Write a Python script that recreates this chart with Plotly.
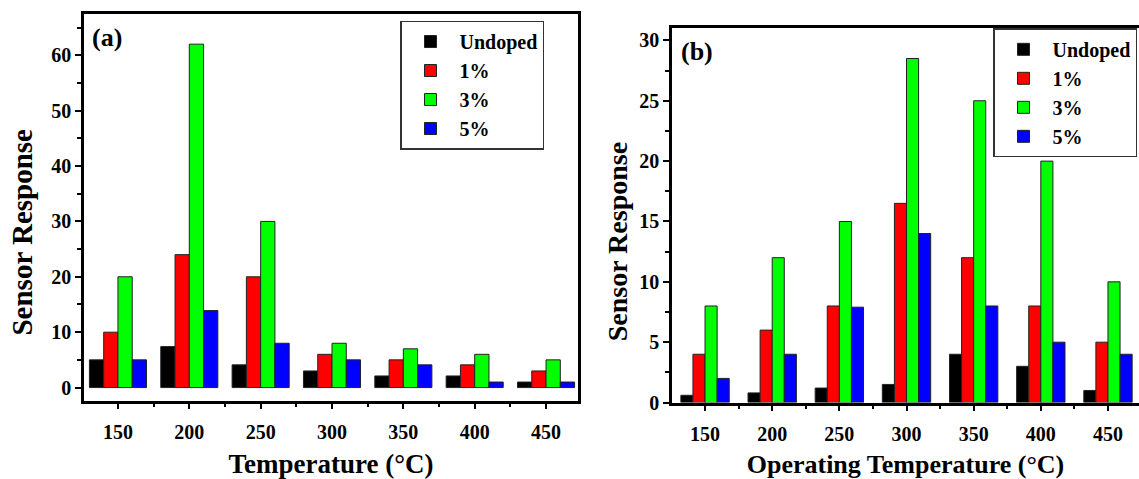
import plotly.graph_objects as go

temperatures = [150, 200, 250, 300, 350, 400, 450]
series_names = ["Undoped", "1%", "3%", "5%"]
series_colors = ["#000000", "#FF0000", "#00FF00", "#0000FF"]

# Panel (a)
a_undoped = [5, 7.4, 4.1, 3, 2.1, 2.1, 1]
a_1pct = [10, 24, 20, 6, 5, 4.1, 3]
a_3pct = [20, 62, 30, 8, 7, 6, 5]
a_5pct = [5, 13.9, 8, 5, 4.1, 1, 1]

# Panel (b)
b_undoped = [0.6, 0.8, 1.2, 1.5, 4, 3, 1]
b_1pct = [4, 6, 8, 16.5, 12, 8, 5]
b_3pct = [8, 12, 15, 28.5, 25, 20, 10]
b_5pct = [2, 4, 7.9, 14, 8, 5, 4]

FONT = "Liberation Serif, Times New Roman, serif"
W, H = 1139, 479

# bar widths in x-data units (temperature step is 50)
BAR_W_A = 10.0
BAR_W_B = 9.0

fig = go.Figure()

for i, (name, color, vals) in enumerate(zip(series_names, series_colors, [a_undoped, a_1pct, a_3pct, a_5pct])):
    fig.add_trace(go.Bar(x=temperatures, y=vals, name=name, xaxis="x", yaxis="y",
                         width=BAR_W_A, offset=-2 * BAR_W_A + i * BAR_W_A,
                         marker=dict(color=color, line=dict(color="#222222", width=1)),
                         legend="legend"))

for i, (name, color, vals) in enumerate(zip(series_names, series_colors, [b_undoped, b_1pct, b_3pct, b_5pct])):
    fig.add_trace(go.Bar(x=temperatures, y=vals, name=name, xaxis="x2", yaxis="y2",
                         width=BAR_W_B, offset=-2 * BAR_W_B + i * BAR_W_B,
                         marker=dict(color=color, line=dict(color="#222222", width=1)),
                         legend="legend2"))


def ax_common():
    return dict(showline=True, linecolor="black", linewidth=2.5, ticks="outside",
                ticklen=6, tickwidth=2, tickcolor="black", showgrid=False, zeroline=False,
                tickfont=dict(family=FONT, size=20, color="black", weight="bold"))


def title(text, size, standoff):
    return dict(text=text, standoff=standoff,
                font=dict(family=FONT, size=size, color="black", weight="bold"))


xa = ax_common()
xa.update(domain=[84 / W, 578 / W], range=[126.2, 472.4], tickmode="array",
          tickvals=temperatures, ticktext=[str(t) for t in temperatures], mirror=True,
          ticklabelstandoff=6,
          minor=dict(ticks="outside", ticklen=4, tickwidth=2, tickcolor="black", dtick=25, tick0=125),
          anchor="y", title=title("Temperature (°C)", 27, 14))
ya = ax_common()
ya.update(domain=[1 - 410 / H, 1 - 14 / H], range=[-2.35, 67.5], dtick=10, tick0=0, mirror=True,
          minor=dict(ticks="outside", ticklen=4, tickwidth=2, tickcolor="black", dtick=5, tick0=5),
          anchor="x")

xb = ax_common()
xb.update(domain=[672 / W, 1.0], range=[125.4, 473.1], tickmode="array",
          tickvals=temperatures, ticktext=[str(t) for t in temperatures], mirror=True,
          ticklabelstandoff=6,
          minor=dict(ticks="outside", ticklen=4, tickwidth=2, tickcolor="black", dtick=25, tick0=125),
          anchor="y2", title=title("Operating Temperature (°C)", 26, 11))
yb = ax_common()
yb.update(domain=[1 - 412 / H, 1 - 29 / H], range=[0, 31.0], dtick=5, tick0=0,
          minor=dict(ticks="outside", ticklen=4, tickwidth=2, tickcolor="black", dtick=2.5, tick0=2.5),
          anchor="x2")

legend_common = dict(bgcolor="white", bordercolor="#333333", borderwidth=1.5,
                     font=dict(family=FONT, size=20, color="black", weight="bold"),
                     xanchor="left", yanchor="top", itemwidth=48, tracegroupgap=0,
                     traceorder="normal")

fig.update_layout(
    width=W, height=H,
    margin=dict(l=0, r=0, t=0, b=0),
    paper_bgcolor="white", plot_bgcolor="white",
    font=dict(family=FONT, color="black"),
    barmode="group", bargap=0.2, bargroupgap=0,
    xaxis=xa, yaxis=ya, xaxis2=xb, yaxis2=yb,
    legend=dict(x=400 / W, y=1 - 21 / H, **legend_common),
    legend2=dict(x=993 / W, y=1 - 29 / H, **legend_common),
    showlegend=True,
)

for text, xpos, ypos in [("(a)", 107, 38), ("(b)", 697, 53)]:
    fig.add_annotation(text=text, x=xpos / W, y=1 - ypos / H, xref="paper", yref="paper",
                       xanchor="center", yanchor="middle", showarrow=False,
                       font=dict(family=FONT, size=26, color="black", weight="bold"))

# y-axis titles (placed off-centre as in the original figure)
for xpos, ypos, size in [(22, 238, 29), (617, 248, 28)]:
    fig.add_annotation(text="Sensor Response", x=xpos / W, y=1 - ypos / H, xref="paper", yref="paper",
                       xanchor="center", yanchor="middle", showarrow=False, textangle=-90,
                       font=dict(family=FONT, size=size, color="black", weight="bold"))

fig.write_html("out.html")
